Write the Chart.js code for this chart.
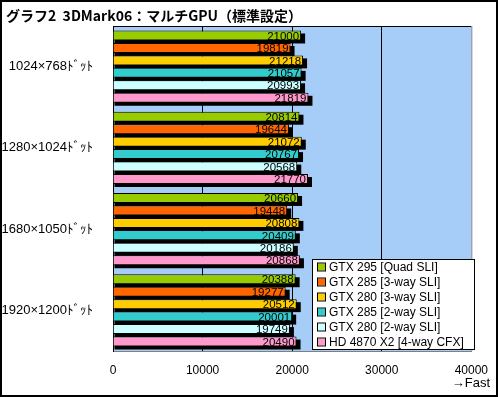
<!DOCTYPE html>
<html>
<head>
<meta charset="utf-8">
<script src="https://cdn.jsdelivr.net/npm/chart.js@4/dist/chart.umd.min.js"></script>
<style>
  body { margin: 0; background: #ffffff; }
  canvas { display: block; }
</style>
</head>
<body>
<canvas id="chart" width="500" height="397"></canvas>
<script>
// データ
const chartTitle = 'グラフ2  3DMark06：マルチGPU（標準設定）';
const resolutions = ['1024×768ﾄﾞｯﾄ', '1280×1024ﾄﾞｯﾄ', '1680×1050ﾄﾞｯﾄ', '1920×1200ﾄﾞｯﾄ'];
const seriesNames = [
    'GTX 295 [Quad SLI]',
    'GTX 285 [3-way SLI]',
    'GTX 280 [3-way SLI]',
    'GTX 285 [2-way SLI]',
    'GTX 280 [2-way SLI]',
    'HD 4870 X2 [4-way CFX]'
];
const gtx295Quad = [21000, 20814, 20660, 20388];
const gtx285Three = [19819, 19644, 19448, 19277];
const gtx280Three = [21218, 21072, 20808, 20512];
const gtx285Two = [21057, 20767, 20409, 20001];
const gtx280Two = [20993, 20568, 20186, 19749];
const hd4870Cfx = [21819, 21770, 20868, 20490];
const xTicks = [0, 10000, 20000, 30000, 40000];
const axisNote = '→Fast';

const seriesColors = ['#99cc00', '#ff6600', '#ffcc00', '#33cccc', '#ccffff', '#ff99cc'];
const seriesValues = [gtx295Quad, gtx285Three, gtx280Three, gtx285Two, gtx280Two, hd4870Cfx];

const JP_FONT = '"Noto Sans CJK JP", sans-serif';
const NUM_FONT = '"Liberation Sans", Arial, sans-serif';
const MIX_FONT = '"Liberation Sans", "Noto Sans CJK JP", sans-serif';

// 背景・枠・影・数値・凡例の描画
const decorPlugin = {
    id: 'decor',
    beforeDraw: (chart) => {
        const ctx = chart.ctx;
        const a = chart.chartArea;
        ctx.save();
        ctx.fillStyle = '#ffffff';
        ctx.fillRect(0, 0, chart.width, chart.height);
        ctx.fillStyle = '#a6cdf8';
        ctx.fillRect(a.left, a.top, a.right - a.left, a.bottom - a.top);
        ctx.restore();
    },
    beforeDatasetsDraw: (chart) => {
        // 棒の影
        const ctx = chart.ctx;
        ctx.save();
        ctx.fillStyle = '#000000';
        chart.data.datasets.forEach((ds, i) => {
            chart.getDatasetMeta(i).data.forEach(bar => {
                const h = bar.height;
                ctx.fillRect(bar.base + 1, bar.y - h / 2 + 3, bar.x - bar.base + 3, h);
            });
        });
        ctx.restore();
    },
    afterDatasetsDraw: (chart) => {
        const ctx = chart.ctx;
        ctx.save();
        ctx.font = '11.5px ' + NUM_FONT;
        ctx.fillStyle = '#000000';
        ctx.textAlign = 'right';
        ctx.textBaseline = 'middle';
        chart.data.datasets.forEach((ds, i) => {
            chart.getDatasetMeta(i).data.forEach((bar, j) => {
                ctx.fillText(String(ds.data[j]), bar.x - 2, bar.y + 1);
            });
        });
        ctx.restore();
    },
    afterDraw: (chart) => {
        const ctx = chart.ctx;
        const a = chart.chartArea;
        ctx.save();
        // チャートエリアの枠
        ctx.lineWidth = 1;
        ctx.strokeStyle = '#000000';
        ctx.beginPath();
        ctx.moveTo(a.left, a.top + 0.5);
        ctx.lineTo(a.right, a.top + 0.5);
        ctx.stroke();
        ctx.strokeStyle = '#808080';
        ctx.beginPath();
        ctx.moveTo(a.right + 0.5, a.top);
        ctx.lineTo(a.right + 0.5, a.bottom);
        ctx.stroke();

        // 外枠
        ctx.strokeStyle = '#000000';
        ctx.lineWidth = 2;
        ctx.strokeRect(1, 1, 496, 395);

        // タイトル
        ctx.fillStyle = '#000000';
        ctx.font = 'bold 14px ' + JP_FONT;
        ctx.textAlign = 'left';
        ctx.textBaseline = 'middle';
        ctx.fillText(chartTitle, 6, 16);

        // →Fast
        ctx.font = '13px ' + MIX_FONT;
        ctx.textAlign = 'right';
        ctx.fillText(axisNote, 490, 383);

        // 凡例
        const lx = 312, ly = 259, lw = 162, lh = 90;
        ctx.fillStyle = '#ffffff';
        ctx.fillRect(lx, ly, lw, lh);
        ctx.strokeStyle = '#000000';
        ctx.lineWidth = 1;
        ctx.strokeRect(lx + 0.5, ly + 0.5, lw, lh);
        ctx.textAlign = 'left';
        ctx.font = '12px ' + NUM_FONT;
        chart.data.datasets.forEach((ds, i) => {
            const cy = ly + 7.5 + i * 15;
            ctx.fillStyle = ds.backgroundColor;
            ctx.fillRect(lx + 6, cy - 3, 7, 7);
            ctx.strokeStyle = '#000000';
            ctx.strokeRect(lx + 5.5, cy - 3.5, 8, 8);
            ctx.fillStyle = '#000000';
            ctx.fillText(ds.label, lx + 17, cy + 1);
        });
        ctx.restore();
    }
};

const datasets = seriesNames.map((name, i) => ({
    label: name,
    data: seriesValues[i],
    backgroundColor: seriesColors[i],
    borderColor: '#000000',
    borderWidth: 1,
    categoryPercentage: 0.92,
    barPercentage: 0.8
}));

new Chart(document.getElementById('chart').getContext('2d'), {
    type: 'bar',
    data: {
        labels: resolutions,
        datasets: datasets
    },
    plugins: [decorPlugin],
    options: {
        indexAxis: 'y',
        responsive: false,
        animation: false,
        layout: {
            padding: { top: 26, right: 23, left: 0, bottom: 0 }
        },
        scales: {
            x: {
                min: xTicks[0],
                max: xTicks[xTicks.length - 1],
                afterBuildTicks: (scale) => {
                    scale.ticks = xTicks.map(v => ({ value: v }));
                },
                afterFit: (scale) => {
                    scale.height = 46;
                },
                grid: {
                    color: (c) => (c.tick && c.tick.value > 0 && c.tick.value < 40000) ? '#000000' : 'rgba(0,0,0,0)',
                    drawTicks: false
                },
                border: { color: '#808080' },
                ticks: {
                    color: '#000000',
                    padding: 12,
                    maxRotation: 0,
                    font: { family: NUM_FONT, size: 12 },
                    callback: (value) => String(value)
                }
            },
            y: {
                afterFit: (scale) => {
                    scale.width = 113;
                },
                grid: { display: false },
                border: { color: '#000000' },
                ticks: {
                    color: '#000000',
                    padding: 12,
                    font: { family: MIX_FONT, size: 13 }
                }
            }
        },
        plugins: {
            legend: { display: false },
            tooltip: { enabled: false }
        }
    }
});
</script>
</body>
</html>
